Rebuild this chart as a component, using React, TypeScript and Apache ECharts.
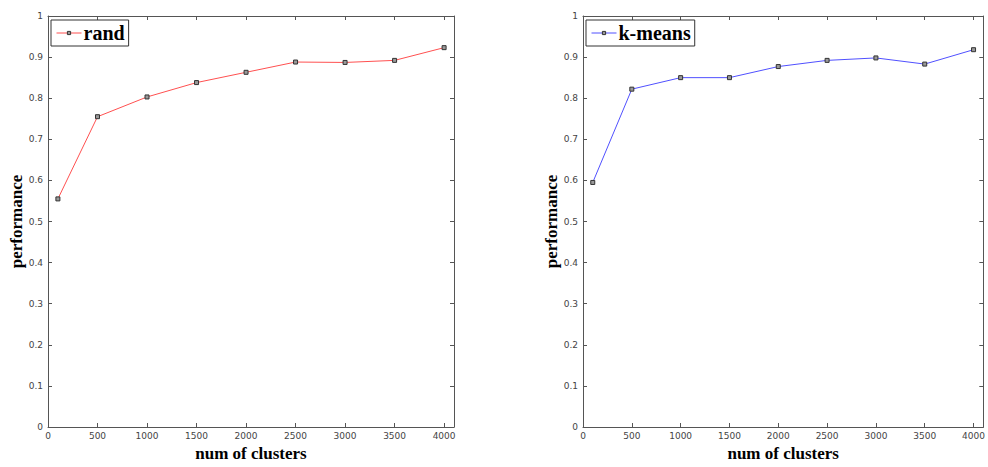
import React, { useEffect, useRef } from "react";
import * as echarts from "echarts";

const clusterCounts = [100, 500, 1000, 1500, 2000, 2500, 3000, 3500, 4000];
const randPerf = [0.555, 0.755, 0.803, 0.838, 0.863, 0.888, 0.887, 0.892, 0.923];
const kmeansPerf = [0.595, 0.822, 0.85, 0.85, 0.877, 0.892, 0.898, 0.883, 0.918];
const seriesNames = ["rand", "k-means"];
const seriesColors = ["#ff5050", "#5050ff"];
const xAxisTitle = "num of clusters";
const yAxisTitle = "performance";

const tickFont = { fontFamily: "DejaVu Sans", fontSize: 9, color: "#444" };
const nameFont = { fontFamily: "Liberation Serif", fontWeight: "bold" as const, fontSize: 17, color: "#000" };
const axisLineStyle = { color: "#555", width: 1 };

export default function App() {
  const ref = useRef<HTMLDivElement>(null);
  useEffect(() => {
    if (!ref.current) return;
    const chart = echarts.init(ref.current, undefined, { renderer: "svg" });
    const grids = [
      { left: 48, top: 16, width: 406, height: 418 },
      { left: 583, top: 16, width: 406, height: 418 },
    ];
    const xAxes: any[] = [];
    const yAxes: any[] = [];
    grids.forEach((_, gi) => {
      const xBase = {
        gridIndex: gi,
        type: "value",
        min: 0,
        max: 4100,
        interval: 500,
        splitLine: { show: false },
        axisLine: { show: true, onZero: false, lineStyle: axisLineStyle },
        axisTick: { show: true, inside: true, length: 4, lineStyle: axisLineStyle },
      };
      xAxes.push({
        ...xBase,
        position: "bottom",
        name: xAxisTitle,
        nameLocation: "middle",
        nameGap: 18,
        nameTextStyle: nameFont,
        axisLabel: {
          ...tickFont,
          margin: 4,
          formatter: (v: number) => (v % 500 === 0 ? String(v) : ""),
        },
      });
      xAxes.push({ ...xBase, position: "top", axisLabel: { show: false } });
      const yBase = {
        gridIndex: gi,
        type: "value",
        min: 0,
        max: 1,
        interval: 0.1,
        splitLine: { show: false },
        axisLine: { show: true, onZero: false, lineStyle: axisLineStyle },
        axisTick: { show: true, inside: true, length: 4, lineStyle: axisLineStyle },
      };
      yAxes.push({
        ...yBase,
        position: "left",
        name: yAxisTitle,
        nameLocation: "middle",
        nameGap: 22,
        nameRotate: 90,
        nameTextStyle: nameFont,
        axisLabel: { ...tickFont, margin: 5 },
      });
      yAxes.push({ ...yBase, position: "right", axisLabel: { show: false } });
    });
    const allData = [randPerf, kmeansPerf];
    const series = allData.map((vals, i) => ({
      type: "line",
      name: seriesNames[i],
      xAxisIndex: i * 2,
      yAxisIndex: i * 2,
      data: clusterCounts.map((x, j) => [x, vals[j]]),
      symbol: "rect",
      symbolSize: 4,
      showSymbol: true,
      lineStyle: { color: seriesColors[i], width: 1 },
      itemStyle: { color: "#999", borderColor: "#333", borderWidth: 1 },
    }));
    const legendLefts = [51, 586];
    const legends = seriesNames.map((n, i) => ({
      data: [n],
      left: legendLefts[i],
      top: 20,
      orient: "horizontal",
      padding: [3, 4, 3, 5],
      borderColor: "#333",
      borderWidth: 1,
      backgroundColor: "#fff",
      itemWidth: 25,
      itemHeight: 4,
      itemGap: 0,
      selectedMode: false,
      lineStyle: { width: 1 },
      itemStyle: { borderWidth: 1 },
      textStyle: {
        fontFamily: "Liberation Serif",
        fontWeight: "bold",
        fontSize: 20,
        color: "#000",
        padding: [0, 0, 0, -3],
      },
    }));
    chart.setOption({
      animation: false,
      backgroundColor: "#fff",
      grid: grids,
      xAxis: xAxes,
      yAxis: yAxes,
      legend: legends,
      series,
    });
    return () => chart.dispose();
  }, []);
  return (
    <div
      ref={ref}
      style={{ position: "fixed", left: 0, top: 0, width: 988, height: 467, background: "#fff" }}
    />
  );
}
